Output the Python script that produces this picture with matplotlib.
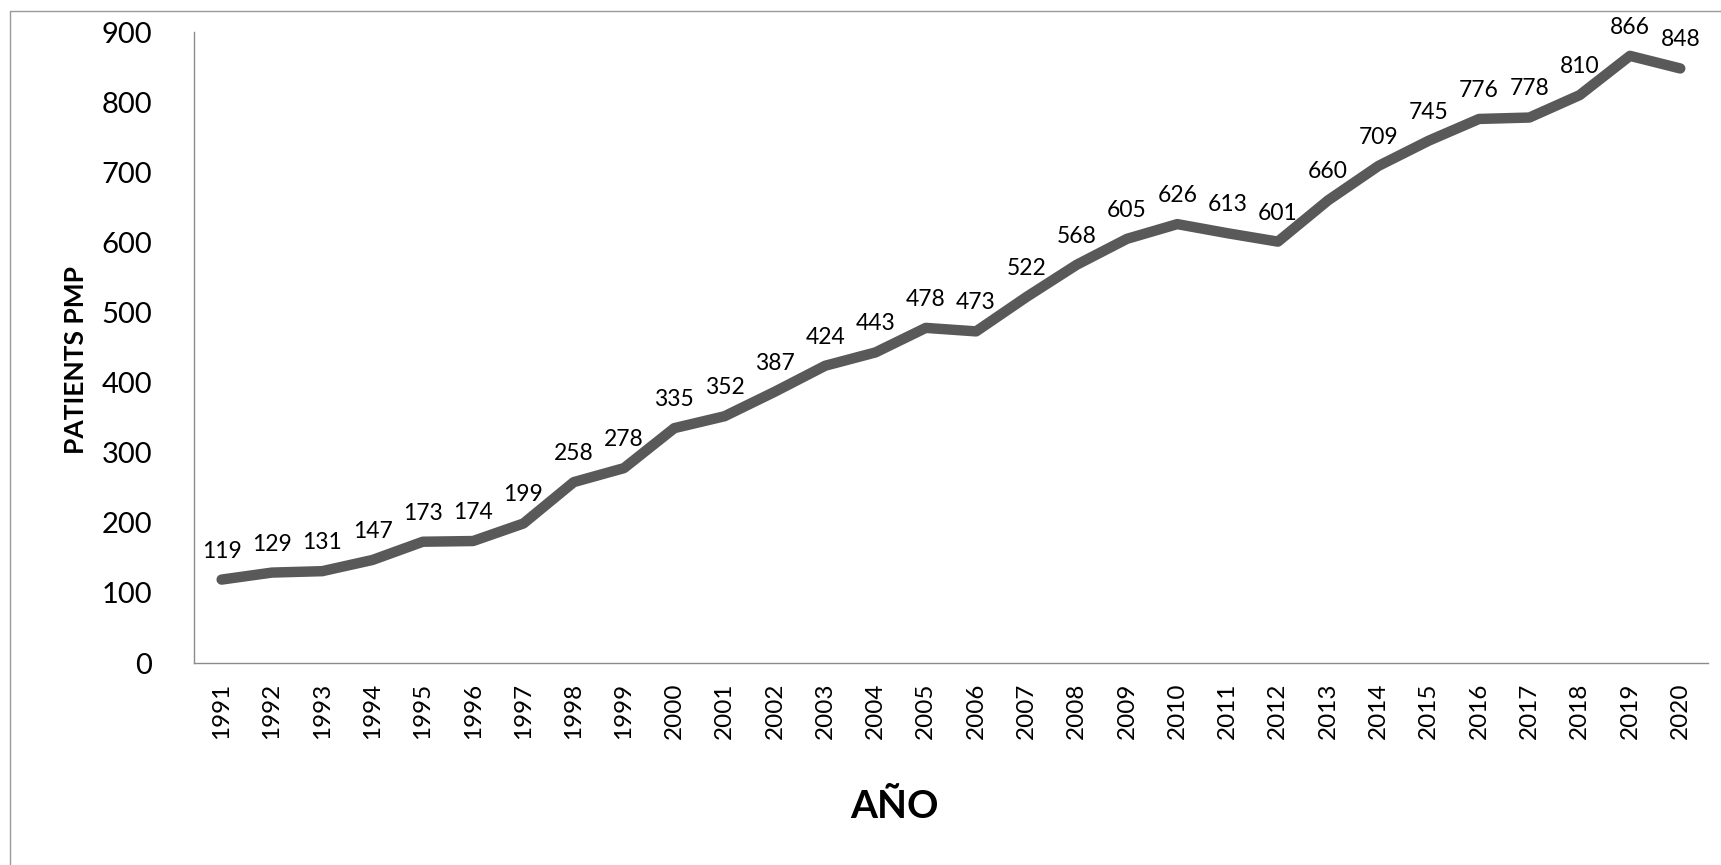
import matplotlib.pyplot as plt
from matplotlib.lines import Line2D

# data
years = [str(y) for y in range(1991, 2021)]
patients_pmp = [119, 129, 131, 147, 173, 174, 199, 258, 278, 335,
                352, 387, 424, 443, 478, 473, 522, 568, 605, 626,
                613, 601, 660, 709, 745, 776, 778, 810, 866, 848]
y_ticks = [0, 100, 200, 300, 400, 500, 600, 700, 800, 900]

plt.rcParams['font.family'] = ['Lato', 'DejaVu Sans']

fig = plt.figure(figsize=(17.21, 8.65), dpi=100)
ax = fig.add_axes([0.1127, 0.2335, 0.8797, 0.7295])

x = range(len(years))
ax.plot(x, patients_pmp, color='#595959', linewidth=7.5,
        solid_capstyle='round', solid_joinstyle='round')

for i, v in enumerate(patients_pmp):
    ax.annotate(str(v), (i, v), xytext=(0, 13), textcoords='offset points',
                ha='center', va='bottom', fontsize=16.5, color='black')

ax.set_xlim(-0.55, len(years) - 0.45)
ax.set_ylim(0, 900)
ax.set_yticks(y_ticks)
ax.set_xticks(list(x))
ax.set_xticklabels(years, rotation=90, fontsize=17.5)
ax.tick_params(axis='y', labelsize=21, length=0, pad=30)
ax.tick_params(axis='x', length=0, pad=14)

for side in ['top', 'right']:
    ax.spines[side].set_visible(False)
for side in ['left', 'bottom']:
    ax.spines[side].set_color('#8c8c8c')
    ax.spines[side].set_linewidth(1)

ax.set_ylabel('PATIENTS PMP', fontsize=19, fontweight='bold')
ax.yaxis.set_label_coords(-0.070, 0.48)
ax.set_xlabel('AÑO', fontsize=28, fontweight='bold')
ax.xaxis.set_label_coords(0.463, -0.20)

# outer chart-area border (left and top only, as in the source)
bx = 10 / 1721
by = 1 - 11 / 865
fig.add_artist(Line2D([bx, bx, 1], [0, by, by], transform=fig.transFigure,
                      color='#999999', linewidth=1))

fig.savefig('out.png', dpi=100)
